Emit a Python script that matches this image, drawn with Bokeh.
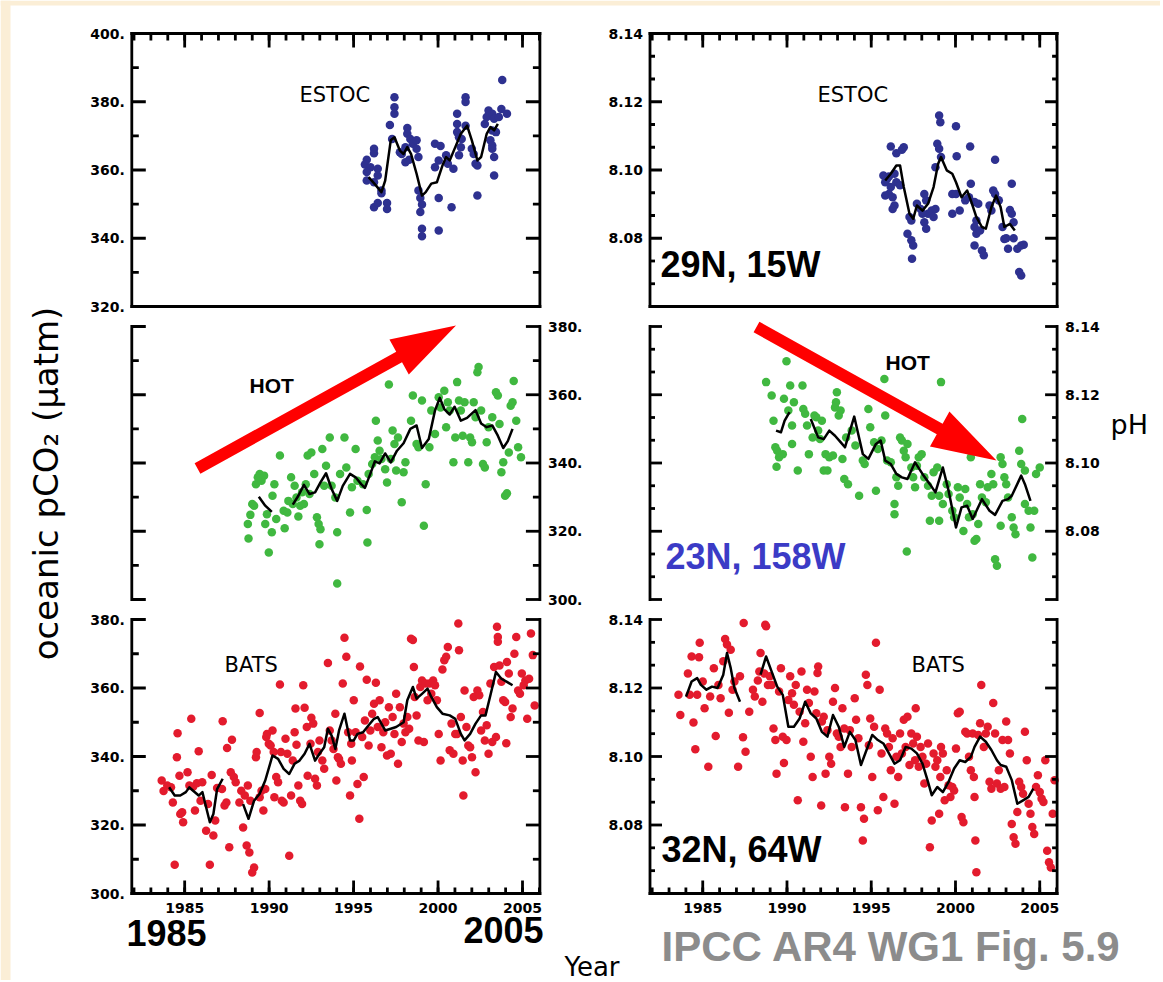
import math
from bokeh.plotting import figure
from bokeh.models import Range1d
from bokeh.embed import file_html
from bokeh.resources import INLINE
from bokeh.core.properties import value

# ------------------------------------------------------------------ data
YEAR_LIMITS = (1981.87, 2006.03)
YEAR_MAJOR = [1985, 1990, 1995, 2000, 2005]
YEAR_LABELS = ["1985", "1990", "1995", "2000", "2005"]
YEAR_MINOR = list(range(1982, 2007))

PCO2_TOP_LIMITS = (320, 400)
PCO2_LIMITS = (300, 380)
PH_LIMITS = (8.06, 8.14)
PCO2_TOP_MAJOR = [320, 340, 360, 380, 400]
PCO2_TOP_LABELS = ["320.", "340.", "360.", "380.", "400."]
PCO2_MAJOR = [300, 320, 340, 360, 380]
PCO2_LABELS = ["300.", "320.", "340.", "360.", "380."]
PH_MAJOR = [8.06, 8.08, 8.10, 8.12, 8.14]
PH_LABELS = ["", "8.08", "8.10", "8.12", "8.14"]

estoc_co2 = [(1995.78, 363.0), (1995.67, 361.6), (1996.21, 366.2), (1996.21, 364.9), (1996.0, 360.8),
             (1996.43, 360.4), (1995.78, 359.4), (1996.43, 358.4), (1995.78, 356.9), (1996.21, 356.4),
             (1996.65, 354.0), (1996.65, 353.2), (1996.21, 349.1), (1996.43, 350.3), (1996.98, 350.3),
             (1996.98, 348.6), (1997.42, 381.3), (1997.42, 378.4), (1997.42, 376.5), (1997.15, 373.2),
             (1997.28, 369.1), (1997.74, 365.2), (1997.85, 364.7), (1998.07, 366.7), (1998.18, 372.3),
             (1998.18, 370.6), (1998.36, 369.1), (1998.51, 367.7), (1998.73, 368.7), (1998.73, 366.2),
             (1998.29, 363.0), (1998.07, 362.3), (1998.84, 363.8), (1998.84, 354.0), (1998.95, 351.8),
             (1999.05, 349.9), (1998.95, 347.7), (1999.05, 342.8), (1999.05, 340.6), (1999.82, 367.7),
             (2000.15, 367.0), (1999.82, 360.8), (2000.04, 362.8), (2000.04, 351.8), (2000.04, 342.3),
             (2000.80, 349.1), (2000.48, 364.3), (2000.58, 361.8), (2000.91, 360.4), (2001.13, 376.5),
             (2001.13, 373.5), (2001.13, 371.1), (2001.24, 369.6), (2001.35, 366.7), (2001.24, 364.3),
             (2001.63, 381.3), (2001.63, 379.9), (2001.63, 373.0), (2001.40, 369.1), (2002.00, 366.2),
             (2002.11, 364.7), (2002.22, 361.8), (2002.33, 361.3), (2002.33, 352.5), (2002.77, 373.5),
             (2002.88, 375.5), (2002.99, 377.4), (2003.10, 376.0), (2003.21, 376.5), (2003.32, 375.0),
             (2003.21, 371.6), (2003.10, 368.7), (2003.21, 367.2), (2003.21, 366.2), (2003.32, 363.8),
             (2003.32, 358.4), (2003.43, 371.1), (2003.75, 377.9), (2004.08, 376.5), (2003.80, 386.4),
             (2003.60, 375.5)]
estoc_co2_smooth = [(1995.89, 357.9), (1996.32, 355.5), (1996.65, 353.5), (1996.87, 356.9), (1997.20, 368.7),
                    (1997.42, 369.6), (1997.74, 365.7), (1997.96, 364.7), (1998.18, 366.7), (1998.40, 364.7),
                    (1998.73, 358.9), (1999.05, 352.5), (1999.27, 353.5), (1999.60, 356.0), (1999.93, 356.4),
                    (2000.26, 361.3), (2000.48, 363.8), (2000.69, 362.8), (2001.02, 366.7), (2001.35, 370.6),
                    (2001.72, 373.0), (2002.00, 368.7), (2002.33, 362.8), (2002.55, 363.8), (2002.88, 370.6),
                    (2003.10, 372.6), (2003.32, 371.6), (2003.54, 373.5)]

estoc_ph = [(1995.72, 8.0984), (1995.83, 8.0964), (1995.94, 8.0974), (1996.05, 8.0981), (1996.16, 8.0950),
            (1996.05, 8.0930), (1995.83, 8.0925), (1996.38, 8.0989), (1996.49, 8.0964), (1996.27, 8.0920),
            (1996.38, 8.0896), (1996.27, 8.0886), (1996.16, 8.1069), (1996.49, 8.1049), (1996.93, 8.1067),
            (1996.82, 8.1059), (1996.71, 8.0955), (1997.15, 8.0813), (1997.38, 8.0794), (1997.49, 8.0779),
            (1997.42, 8.0740), (1997.27, 8.0862), (1997.38, 8.0852), (1997.71, 8.0901), (1997.93, 8.0886),
            (1998.15, 8.0930), (1998.26, 8.0911), (1998.37, 8.0872), (1998.15, 8.0847), (1998.26, 8.0828),
            (1998.59, 8.0881), (1998.70, 8.0862), (1998.81, 8.0886), (1998.04, 8.0872), (1999.03, 8.1160),
            (1999.10, 8.1140), (1998.92, 8.1077), (1999.03, 8.1062), (1999.14, 8.1038), (1998.81, 8.1008),
            (2000.03, 8.1128), (2000.07, 8.1040), (1999.81, 8.0930), (2000.03, 8.0930), (1999.81, 8.0872),
            (2000.25, 8.0881), (2000.87, 8.1069), (2000.91, 8.0960), (2000.58, 8.0911), (2000.80, 8.0920),
            (2001.13, 8.0906), (2001.35, 8.0901), (2001.24, 8.0852), (2001.13, 8.0833), (2001.24, 8.0813),
            (2001.13, 8.0779), (2001.57, 8.0764), (2001.68, 8.0750), (2001.46, 8.0823), (2002.02, 8.0896),
            (2002.13, 8.0881), (2002.35, 8.1030), (2002.24, 8.0940), (2002.35, 8.0930), (2002.57, 8.0911),
            (2002.79, 8.0833), (2002.90, 8.0798), (2003.01, 8.0800), (2003.23, 8.0883), (2003.34, 8.0872),
            (2003.34, 8.0960), (2003.45, 8.0847), (2003.45, 8.0800), (2003.12, 8.0769), (2003.67, 8.0769),
            (2003.90, 8.0779), (2004.05, 8.0781), (2003.78, 8.0701), (2003.90, 8.0691)]
estoc_ph_smooth = [(1995.83, 8.0969), (1996.16, 8.0989), (1996.49, 8.1013), (1996.71, 8.1013), (1996.93, 8.0950),
                   (1997.27, 8.0872), (1997.49, 8.0857), (1997.71, 8.0896), (1998.04, 8.0881), (1998.37, 8.0901),
                   (1998.70, 8.0950), (1998.97, 8.1018), (1999.14, 8.1038), (1999.48, 8.0999), (1999.81, 8.0989),
                   (2000.03, 8.0964), (2000.36, 8.0920), (2000.69, 8.0940), (2000.91, 8.0911), (2001.24, 8.0862),
                   (2001.57, 8.0833), (2001.80, 8.0828), (2002.13, 8.0891), (2002.41, 8.0925), (2002.68, 8.0891),
                   (2002.90, 8.0833), (2003.23, 8.0842), (2003.52, 8.0823)]

hot_co2 = [(1988.78, 317.9), (1988.74, 322.1), (1988.89, 324.8), (1989.00, 328.0), (1989.11, 327.5),
           (1989.22, 333.8), (1989.33, 335.8), (1989.44, 336.8), (1989.55, 334.8), (1989.70, 336.3),
           (1989.77, 322.1), (1989.87, 325.0), (1989.98, 313.8), (1990.16, 319.7), (1990.20, 330.4),
           (1990.31, 333.8), (1990.42, 323.6), (1990.64, 342.2), (1990.86, 326.0), (1990.92, 320.9),
           (1991.08, 325.5), (1991.14, 328.9), (1991.30, 335.8), (1991.40, 328.0), (1991.51, 333.3),
           (1991.62, 329.9), (1991.73, 324.3), (1991.84, 327.5), (1991.95, 331.4), (1992.06, 328.0),
           (1992.17, 333.8), (1992.28, 342.2), (1992.39, 330.9), (1992.50, 343.1), (1992.67, 336.8),
           (1992.83, 324.1), (1992.93, 322.1), (1993.04, 320.6), (1992.98, 316.2), (1993.15, 344.1),
           (1993.26, 333.3), (1993.37, 339.2), (1993.59, 347.5), (1993.70, 333.3), (1993.92, 329.9),
           (1994.03, 319.7), (1994.03, 304.7), (1994.20, 336.8), (1994.46, 347.5), (1994.57, 338.7),
           (1994.79, 325.5), (1994.90, 332.9), (1995.12, 344.1), (1995.23, 334.8), (1995.78, 326.2),
           (1995.82, 316.7), (1995.56, 333.8), (1995.89, 336.8), (1996.10, 339.7), (1996.26, 341.7),
           (1996.32, 352.4), (1996.43, 346.6), (1996.54, 343.6), (1996.65, 341.2), (1996.87, 338.2),
           (1996.98, 334.3), (1997.09, 363.0), (1997.20, 341.2), (1997.31, 349.5), (1997.42, 345.6),
           (1997.52, 337.8), (1997.63, 347.5), (1997.85, 328.5), (1997.96, 337.3), (1998.07, 340.2),
           (1998.40, 352.4), (1998.51, 359.8), (1998.73, 345.6), (1998.84, 344.6), (1999.05, 358.3),
           (1999.16, 321.6), (1999.27, 333.8), (1999.49, 344.6), (1999.60, 355.4), (1999.82, 348.5),
           (2000.04, 359.3), (2000.15, 356.3), (2000.37, 361.2), (2000.48, 350.5), (2000.58, 357.8),
           (2000.69, 355.4), (2000.91, 340.2), (2001.02, 347.5), (2001.13, 363.7), (2001.24, 358.3),
           (2001.35, 355.4), (2001.46, 348.0), (2001.57, 357.8), (2001.79, 340.2), (2001.90, 347.5),
           (2002.01, 346.1), (2002.11, 357.8), (2002.22, 353.4), (2002.33, 366.6), (2002.40, 368.1),
           (2002.55, 355.4), (2002.66, 339.7), (2002.77, 338.7), (2002.88, 346.1), (2002.99, 350.5),
           (2003.21, 353.4), (2003.43, 360.7), (2003.54, 359.8), (2003.64, 351.4), (2003.75, 337.3),
           (2003.86, 340.2), (2003.97, 330.4), (2004.08, 331.1), (2004.19, 343.1), (2004.30, 356.8),
           (2004.41, 357.8), (2004.48, 364.0), (2004.63, 352.4), (2004.74, 344.6), (2004.91, 341.7)]
hot_co2_smooth_a = [(1989.39, 330.1), (1989.77, 327.5), (1990.16, 325.7)]
hot_co2_smooth_b = [(1991.40, 327.8), (1991.73, 330.4), (1992.06, 333.6), (1992.39, 330.9), (1992.72, 331.4),
                    (1993.04, 334.3), (1993.37, 337.0), (1993.70, 332.4), (1994.03, 328.9), (1994.36, 333.3),
                    (1994.79, 336.8), (1995.12, 335.8), (1995.45, 333.8), (1995.67, 332.7), (1995.99, 336.8),
                    (1996.26, 340.5), (1996.54, 339.9), (1996.87, 342.8), (1997.20, 340.2), (1997.57, 343.6),
                    (1997.96, 345.8), (1998.36, 350.0), (1998.73, 351.0), (1999.05, 344.4), (1999.45, 347.0),
                    (1999.82, 355.4), (2000.10, 359.1), (2000.37, 355.8), (2000.69, 354.2), (2000.98, 356.5),
                    (2001.35, 352.4), (2001.72, 353.2), (2002.22, 355.5), (2002.55, 351.6), (2002.88, 350.5),
                    (2003.21, 351.0), (2003.54, 348.0), (2003.86, 344.4), (2004.13, 346.4), (2004.41, 350.0)]

hot_ph = [(1988.76, 8.1237), (1989.09, 8.1198), (1989.20, 8.1124), (1989.31, 8.1046), (1989.42, 8.1036),
          (1989.53, 8.1017), (1989.38, 8.0989), (1989.75, 8.1026), (1989.82, 8.1188), (1989.97, 8.1298),
          (1990.08, 8.1154), (1990.19, 8.1227), (1990.30, 8.1110), (1990.41, 8.1178), (1990.30, 8.1056),
          (1990.64, 8.0978), (1990.92, 8.1227), (1990.97, 8.1158), (1991.08, 8.1144), (1991.19, 8.1110),
          (1991.30, 8.1026), (1991.52, 8.1075), (1991.63, 8.1139), (1991.74, 8.1134), (1991.85, 8.1095),
          (1991.96, 8.1070), (1992.07, 8.1124), (1992.18, 8.0978), (1992.29, 8.1026), (1992.40, 8.0978),
          (1992.51, 8.1017), (1992.73, 8.1022), (1992.85, 8.1163), (1992.96, 8.1207), (1992.91, 8.1178),
          (1993.07, 8.1139), (1993.18, 8.1154), (1993.29, 8.1012), (1993.40, 8.0953), (1993.62, 8.0938),
          (1993.51, 8.1075), (1993.84, 8.1095), (1994.06, 8.1051), (1994.28, 8.0904), (1994.50, 8.1007),
          (1994.61, 8.0997), (1994.83, 8.1158), (1994.94, 8.1105), (1995.17, 8.1061), (1995.28, 8.0919),
          (1995.39, 8.1041), (1995.61, 8.1066), (1995.78, 8.1246), (1995.83, 8.1139), (1995.94, 8.1007),
          (1996.16, 8.1002), (1996.38, 8.0880), (1996.38, 8.0850), (1996.49, 8.0958), (1996.60, 8.0933),
          (1996.71, 8.1075), (1996.82, 8.1066), (1996.93, 8.1036), (1997.04, 8.1017), (1997.11, 8.0741),
          (1997.15, 8.1056), (1997.38, 8.0987), (1997.49, 8.0958), (1997.60, 8.0929), (1997.71, 8.0992),
          (1997.82, 8.1017), (1997.99, 8.1026), (1998.15, 8.0958), (1998.37, 8.0933), (1998.48, 8.0831),
          (1998.59, 8.0904), (1998.70, 8.0973), (1998.92, 8.0987), (1999.03, 8.0831), (1999.03, 8.0904),
          (1999.14, 8.1237), (1999.25, 8.0880), (1999.48, 8.0938), (1999.59, 8.0909), (1999.81, 8.0860),
          (1999.92, 8.0841), (2000.14, 8.0929), (2000.25, 8.0899), (2000.47, 8.0801), (2000.58, 8.0924),
          (2000.69, 8.0880), (2000.80, 8.0841), (2000.91, 8.1017), (2001.02, 8.0850), (2001.13, 8.0772),
          (2001.24, 8.0777), (2001.35, 8.0821), (2001.46, 8.0938), (2001.57, 8.0899), (2001.80, 8.0885),
          (2001.91, 8.0929), (2002.13, 8.0968), (2002.24, 8.0938), (2002.35, 8.0718), (2002.46, 8.0699),
          (2002.68, 8.1017), (2002.79, 8.0997), (2002.68, 8.0816), (2002.90, 8.0958), (2003.01, 8.0938),
          (2003.12, 8.0899), (2003.34, 8.0841), (2003.45, 8.0811), (2003.56, 8.0791), (2003.78, 8.1036),
          (2003.90, 8.0997), (2003.96, 8.1129), (2004.12, 8.0978), (2004.12, 8.0880), (2004.34, 8.0860),
          (2004.45, 8.0811), (2004.56, 8.0723), (2004.67, 8.0860), (2004.78, 8.0968), (2005.00, 8.0987)]
hot_ph_smooth_a = [(1989.35, 8.1095), (1989.64, 8.1090), (1989.86, 8.1124), (1990.15, 8.1149)]
hot_ph_smooth_b = [(1991.41, 8.1129), (1991.85, 8.1075), (1992.18, 8.1070), (1992.51, 8.1095), (1992.85, 8.1080),
                   (1993.18, 8.1061), (1993.44, 8.1046), (1993.99, 8.1136), (1994.50, 8.1026), (1994.83, 8.1012),
                   (1995.28, 8.1056), (1995.56, 8.1066), (1995.83, 8.1007), (1996.16, 8.0997), (1996.49, 8.0968),
                   (1996.82, 8.0958), (1997.15, 8.0953), (1997.60, 8.1002), (1998.04, 8.0968), (1998.48, 8.0938),
                   (1998.81, 8.0914), (1999.25, 8.0987), (1999.59, 8.0919), (2000.03, 8.0811), (2000.36, 8.0870),
                   (2000.69, 8.0875), (2001.02, 8.0836), (2001.57, 8.0894), (2002.02, 8.0860), (2002.35, 8.0848),
                   (2002.79, 8.0889), (2003.12, 8.0894), (2003.34, 8.0904), (2003.90, 8.0963), (2004.12, 8.0938),
                   (2004.45, 8.0889)]

bats_co2 = [(1983.64, 333.0), (1983.75, 329.9), (1983.97, 331.5), (1984.19, 331.0), (1984.30, 326.6),
            (1984.41, 308.4), (1984.58, 346.8), (1984.54, 339.8), (1984.69, 334.4), (1984.74, 323.2),
            (1984.85, 323.7), (1984.91, 320.8), (1985.17, 335.4), (1985.28, 331.5), (1985.39, 351.0),
            (1985.50, 331.2), (1985.61, 324.2), (1985.72, 332.2), (1985.83, 341.5), (1985.94, 327.1),
            (1986.04, 332.5), (1986.27, 318.3), (1986.38, 326.1), (1986.49, 308.4), (1986.60, 334.6),
            (1986.70, 316.9), (1986.81, 321.3), (1986.92, 330.8), (1987.21, 330.5), (1987.25, 350.3),
            (1987.36, 325.7), (1987.47, 326.6), (1987.51, 342.5), (1987.64, 313.5), (1987.73, 335.4),
            (1987.80, 344.9), (1987.91, 334.0), (1988.02, 332.5), (1988.24, 326.6), (1988.35, 330.0),
            (1988.46, 319.3), (1988.56, 328.6), (1988.67, 314.0), (1988.74, 331.5), (1988.83, 312.0),
            (1988.89, 327.1), (1989.00, 306.1), (1989.11, 307.6), (1989.22, 339.8), (1989.26, 341.3),
            (1989.44, 352.7), (1989.44, 328.1), (1989.55, 330.0), (1989.66, 324.2), (1989.77, 330.5),
            (1989.83, 345.7), (1989.87, 346.6), (1989.98, 343.7), (1990.09, 343.2), (1990.20, 347.6),
            (1990.27, 341.3), (1990.31, 328.1), (1990.42, 334.0), (1990.53, 332.5), (1990.64, 361.0),
            (1990.70, 341.3), (1990.75, 327.1), (1990.86, 326.6), (1990.97, 345.2), (1991.08, 340.8),
            (1991.19, 311.0), (1991.30, 328.6), (1991.40, 338.8), (1991.51, 347.1), (1991.56, 354.0),
            (1991.62, 343.4), (1991.73, 331.5), (1991.84, 327.1), (1991.95, 326.1), (1992.02, 360.8),
            (1992.10, 354.2), (1992.23, 348.6), (1992.28, 334.4), (1992.45, 343.7), (1992.50, 351.3),
            (1992.61, 349.6), (1992.72, 333.5), (1992.83, 331.5), (1992.89, 341.3), (1992.98, 344.7),
            (1993.15, 338.8), (1993.26, 336.4), (1993.48, 367.3), (1993.59, 347.6), (1993.70, 344.7),
            (1993.81, 342.2), (1993.92, 352.5), (1993.98, 333.0), (1994.07, 339.8), (1994.14, 339.3),
            (1994.25, 337.9), (1994.36, 361.3), (1994.46, 374.7), (1994.57, 369.1), (1994.68, 347.1),
            (1994.79, 328.6), (1994.86, 343.7), (1994.90, 338.8), (1995.01, 356.4), (1995.12, 347.1),
            (1995.23, 332.0), (1995.34, 321.8), (1995.38, 366.3), (1995.51, 345.7), (1995.60, 334.0),
            (1995.67, 350.5), (1995.78, 362.4), (1995.89, 343.2), (1995.99, 347.6), (1996.10, 352.5),
            (1996.21, 355.4), (1996.32, 361.5), (1996.43, 348.6), (1996.54, 356.4), (1996.65, 342.7),
            (1996.76, 347.1), (1996.87, 350.0), (1996.98, 340.3), (1997.09, 354.4), (1997.20, 340.8),
            (1997.31, 351.5), (1997.42, 346.6), (1997.52, 358.3), (1997.63, 337.9), (1997.74, 354.4),
            (1997.85, 344.2), (1997.96, 349.6), (1998.07, 347.1), (1998.18, 351.5), (1998.29, 348.1),
            (1998.40, 374.4), (1998.51, 374.0), (1998.57, 366.1), (1998.62, 357.4), (1998.73, 352.0),
            (1998.84, 344.7), (1998.95, 360.3), (1999.05, 362.2), (1999.16, 344.2), (1999.27, 361.3),
            (1999.38, 356.4), (1999.49, 361.3), (1999.60, 358.3), (1999.71, 362.2), (1999.82, 360.8),
            (1999.93, 356.4), (2000.04, 346.6), (2000.15, 338.8), (2000.26, 365.4), (2000.37, 368.1),
            (2000.48, 369.1), (2000.58, 372.0), (2000.69, 341.8), (2000.80, 349.6), (2000.91, 340.8),
            (2001.02, 346.6), (2001.13, 346.6), (2001.20, 378.8), (2001.24, 371.0), (2001.35, 351.5),
            (2001.46, 338.8), (2001.50, 328.6), (2001.57, 359.3), (2001.68, 348.6), (2001.79, 343.2),
            (2001.90, 342.7), (2002.01, 339.8), (2002.11, 357.4), (2002.22, 335.4), (2002.33, 359.3),
            (2002.44, 357.9), (2002.55, 347.6), (2002.66, 353.0), (2002.77, 344.7), (2002.88, 349.1),
            (2002.99, 340.8), (2003.10, 361.3), (2003.21, 344.2), (2003.32, 366.1), (2003.43, 345.7),
            (2003.49, 377.9), (2003.54, 374.9), (2003.54, 373.5), (2003.64, 366.6), (2003.75, 361.8),
            (2003.86, 356.4), (2003.97, 355.9), (2004.04, 343.9), (2004.08, 367.6), (2004.19, 364.2),
            (2004.30, 351.5), (2004.41, 354.0), (2004.52, 370.0), (2004.63, 374.9), (2004.74, 359.3),
            (2004.85, 358.3), (2004.96, 364.2), (2005.07, 360.8), (2005.17, 362.2), (2005.28, 351.0),
            (2005.39, 362.7), (2005.50, 375.9), (2005.61, 369.6), (2005.72, 354.9)]
bats_co2_smooth_a = [(1984.08, 331.0), (1984.41, 328.6), (1984.74, 328.6), (1985.07, 329.6), (1985.28, 331.0),
                     (1985.50, 330.0), (1985.83, 328.6), (1986.05, 329.6), (1986.27, 325.2), (1986.49, 320.8),
                     (1986.70, 323.2), (1986.92, 330.5), (1987.25, 333.5)]
bats_co2_smooth_b = [(1988.46, 326.1), (1988.78, 321.8), (1989.11, 327.1), (1989.44, 329.1), (1989.77, 333.0),
                     (1990.20, 340.3), (1990.53, 339.3), (1990.86, 336.4), (1991.19, 334.9), (1991.51, 337.9),
                     (1991.80, 338.8), (1992.10, 340.8), (1992.39, 343.7), (1992.72, 338.8), (1992.98, 340.8),
                     (1993.26, 342.7), (1993.48, 348.1), (1993.70, 346.1), (1993.92, 342.2), (1994.14, 347.6),
                     (1994.46, 352.5), (1994.79, 344.7), (1995.01, 344.7), (1995.23, 346.6), (1995.56, 347.1),
                     (1995.89, 349.1), (1996.21, 351.0), (1996.43, 351.5), (1996.87, 347.6), (1997.20, 348.1),
                     (1997.52, 348.6), (1997.96, 350.0), (1998.18, 356.4), (1998.51, 360.3), (1998.73, 356.9),
                     (1999.05, 358.3), (1999.38, 359.8), (1999.60, 357.4), (1999.93, 354.4), (2000.26, 352.5),
                     (2000.69, 352.0), (2001.02, 351.0), (2001.35, 346.6), (2001.57, 344.7), (2001.90, 346.6),
                     (2002.22, 349.6), (2002.55, 352.0), (2002.81, 352.0), (2003.10, 357.9), (2003.43, 364.7),
                     (2003.75, 362.7), (2004.08, 361.8), (2004.41, 360.8)]

bats_ph = [(1983.56, 8.1180), (1983.67, 8.1121), (1984.12, 8.1242), (1984.23, 8.1180), (1984.34, 8.1292),
           (1984.45, 8.1099), (1984.56, 8.1021), (1984.67, 8.1180), (1984.78, 8.1290), (1984.82, 8.1332),
           (1985.00, 8.1219), (1985.11, 8.1141), (1985.33, 8.0970), (1985.44, 8.1175), (1985.66, 8.1258),
           (1985.77, 8.1060), (1985.93, 8.1209), (1986.06, 8.1170), (1986.22, 8.1278), (1986.33, 8.1343),
           (1986.44, 8.1327), (1986.55, 8.1128), (1986.66, 8.1312), (1986.77, 8.1195), (1986.88, 8.1219),
           (1987.10, 8.0970), (1987.21, 8.1234), (1987.39, 8.1056), (1987.43, 8.1390), (1987.54, 8.1014),
           (1987.76, 8.1131), (1987.98, 8.1195), (1988.09, 8.1175), (1988.27, 8.1222), (1988.36, 8.1248),
           (1988.43, 8.1302), (1988.54, 8.1160), (1988.65, 8.1242), (1988.71, 8.1385), (1988.76, 8.1380),
           (1988.87, 8.1209), (1988.98, 8.1234), (1989.09, 8.1209), (1989.20, 8.1082), (1989.31, 8.1048),
           (1989.38, 8.0950), (1989.53, 8.1190), (1989.64, 8.1258), (1989.75, 8.1058), (1989.82, 8.0981),
           (1989.97, 8.1048), (1990.08, 8.1165), (1990.19, 8.1234), (1990.30, 8.1185), (1990.41, 8.1151),
           (1990.52, 8.1209), (1990.64, 8.0872), (1990.75, 8.1131), (1990.86, 8.1248), (1990.97, 8.1043),
           (1991.08, 8.1097), (1991.19, 8.1195), (1991.30, 8.1156), (1991.41, 8.0999), (1991.52, 8.0940),
           (1991.63, 8.1190), (1991.74, 8.1126), (1991.81, 8.1244), (1991.85, 8.1263), (1992.03, 8.0857),
           (1992.07, 8.1102), (1992.18, 8.1116), (1992.29, 8.0950), (1992.40, 8.1077), (1992.51, 8.0999),
           (1992.62, 8.0979), (1992.73, 8.1160), (1992.85, 8.1200), (1992.96, 8.1067), (1993.07, 8.1058),
           (1993.18, 8.1028), (1993.29, 8.1141), (1993.40, 8.1082), (1993.44, 8.0852), (1993.62, 8.0950),
           (1993.73, 8.1077), (1993.84, 8.1028), (1994.02, 8.1170), (1994.10, 8.1107), (1994.24, 8.1053),
           (1994.39, 8.0852), (1994.50, 8.0755), (1994.57, 8.0818), (1994.68, 8.1239), (1994.77, 8.1209),
           (1994.86, 8.1033), (1994.94, 8.1111), (1995.06, 8.0940), (1995.17, 8.1087), (1995.28, 8.1332),
           (1995.39, 8.0843), (1995.50, 8.1195), (1995.61, 8.1009), (1995.72, 8.0882), (1995.83, 8.1082),
           (1995.94, 8.1067), (1996.05, 8.1028), (1996.16, 8.0960), (1996.27, 8.1053), (1996.38, 8.0862),
           (1996.49, 8.0999), (1996.60, 8.0940), (1996.71, 8.1067), (1996.82, 8.1009), (1996.93, 8.1107),
           (1997.04, 8.1028), (1997.15, 8.1116), (1997.27, 8.0975), (1997.38, 8.1067), (1997.49, 8.1038),
           (1997.60, 8.0989), (1997.64, 8.1141), (1997.71, 8.1058), (1997.82, 8.0970), (1997.93, 8.1028),
           (1998.04, 8.0999), (1998.15, 8.0921), (1998.26, 8.0979), (1998.37, 8.1038), (1998.48, 8.0735),
           (1998.59, 8.0813), (1998.70, 8.1009), (1998.81, 8.0970), (1998.92, 8.0989), (1999.03, 8.0833),
           (1999.10, 8.0940), (1999.14, 8.1028), (1999.25, 8.1009), (1999.36, 8.0872), (1999.48, 8.0960),
           (1999.59, 8.0916), (1999.70, 8.0882), (1999.81, 8.0911), (1999.92, 8.0901), (2000.03, 8.1023),
           (2000.14, 8.1126), (2000.25, 8.1131), (2000.36, 8.0823), (2000.47, 8.0808), (2000.58, 8.1072),
           (2000.69, 8.1067), (2000.80, 8.0999), (2000.91, 8.0960), (2001.02, 8.1067), (2001.09, 8.0940),
           (2001.13, 8.0882), (2001.18, 8.0755), (2001.24, 8.0662), (2001.35, 8.1063), (2001.46, 8.1097),
           (2001.53, 8.1209), (2001.68, 8.1028), (2001.80, 8.1067), (2001.91, 8.1087), (2002.02, 8.0926),
           (2002.13, 8.0906), (2002.24, 8.1156), (2002.35, 8.1067), (2002.46, 8.0921), (2002.57, 8.0960),
           (2002.68, 8.0906), (2002.79, 8.1048), (2002.90, 8.0911), (2003.01, 8.1102), (2003.12, 8.1048),
           (2003.23, 8.1009), (2003.34, 8.0803), (2003.45, 8.0764), (2003.56, 8.0745), (2003.67, 8.0838),
           (2003.78, 8.0926), (2003.90, 8.0911), (2004.01, 8.0891), (2004.12, 8.1072), (2004.23, 8.0989),
           (2004.34, 8.0862), (2004.45, 8.0833), (2004.56, 8.0794), (2004.67, 8.0774), (2004.78, 8.0911),
           (2004.89, 8.0945), (2005.00, 8.0896), (2005.11, 8.0877), (2005.22, 8.0867), (2005.33, 8.0989),
           (2005.44, 8.0725), (2005.55, 8.0691), (2005.66, 8.0676), (2005.77, 8.0833), (2005.88, 8.0931)]
bats_ph_smooth_a = [(1984.01, 8.1175), (1984.34, 8.1219), (1984.67, 8.1229), (1984.89, 8.1209), (1985.22, 8.1195),
                    (1985.55, 8.1204), (1985.88, 8.1200), (1986.22, 8.1239), (1986.44, 8.1302), (1986.66, 8.1258),
                    (1986.88, 8.1200), (1987.21, 8.1160)]
bats_ph_smooth_b = [(1988.43, 8.1239), (1988.76, 8.1292), (1989.09, 8.1248), (1989.42, 8.1204), (1989.75, 8.1180),
                    (1990.08, 8.1087), (1990.41, 8.1087), (1990.75, 8.1111), (1991.08, 8.1160), (1991.41, 8.1126),
                    (1991.74, 8.1111), (1992.07, 8.1072), (1992.40, 8.1058), (1992.73, 8.1121), (1993.07, 8.1087),
                    (1993.40, 8.1028), (1993.73, 8.1072), (1994.06, 8.1048), (1994.39, 8.0975), (1994.72, 8.1019),
                    (1995.06, 8.1063), (1995.39, 8.1048), (1995.72, 8.1038), (1996.05, 8.1009), (1996.38, 8.0979),
                    (1996.71, 8.0989), (1997.04, 8.1028), (1997.38, 8.1023), (1997.71, 8.1009), (1998.04, 8.0979),
                    (1998.37, 8.0926), (1998.59, 8.0887), (1998.92, 8.0911), (1999.25, 8.0896), (1999.59, 8.0926),
                    (1999.92, 8.0965), (2000.25, 8.0989), (2000.58, 8.0984), (2000.91, 8.0999), (2001.13, 8.1028),
                    (2001.46, 8.1058), (2001.80, 8.1043), (2002.13, 8.1019), (2002.46, 8.0989), (2002.68, 8.0975),
                    (2003.01, 8.0970), (2003.34, 8.0931), (2003.67, 8.0862), (2004.01, 8.0872), (2004.34, 8.0882),
                    (2004.62, 8.0906)]

# ------------------------------------------------------------------ layout / style
W, H = 1160, 980
COL_L = (131.3, 539.4)
COL_R = (649.5, 1056.6)
ROW = [(33.0, 306.0), (326.0, 599.0), (619.0, 893.0)]
C_ESTOC = "#2E3190"
C_HOT = "#40B840"
C_BATS = "#E31B2D"
C_ARROW = "#FF0000"
C_BEIGE = "#FBEED6"
TICK_FONT = value("DejaVu Sans")
LBL_FONT = value("DejaVu Sans")
BIG_FONT = value("Liberation Sans")

p = figure(width=W, height=H, x_range=Range1d(0, W), y_range=Range1d(H, 0),
           output_backend="svg", toolbar_location=None, min_border=0, title=None,
           x_axis_location=None, y_axis_location=None)
p.grid.visible = False
p.outline_line_color = None
p.background_fill_color = "white"
p.border_fill_color = "white"

# slide edge (beige strip on the left and top)
p.quad(left=[0, 0], right=[10, W], top=[0, 0], bottom=[H, 5], fill_color=C_BEIGE, line_color=None)

xr, yr = {}, {}
panels = {}


def setup(name, col, row, ylim):
    xl, xrt = col
    yt, yb = row
    x0, x1 = YEAR_LIMITS
    kx = (x1 - x0) / (xrt - xl)
    xr[name] = Range1d(start=x0 - xl * kx, end=x0 + (W - xl) * kx)
    vbot, vtop = ylim
    ky = (vtop - vbot) / (yb - yt)
    yr[name] = Range1d(start=vtop - (H - yt) * ky, end=vtop + yt * ky)
    panels[name] = (xl, xrt, yt, yb)


setup("tl", COL_L, ROW[0], PCO2_TOP_LIMITS)
setup("ml", COL_L, ROW[1], PCO2_LIMITS)
setup("bl", COL_L, ROW[2], PCO2_LIMITS)
setup("tr", COL_R, ROW[0], PH_LIMITS)
setup("mr", COL_R, ROW[1], PH_LIMITS)
setup("br", COL_R, ROW[2], PH_LIMITS)
p.extra_x_ranges = xr
p.extra_y_ranges = yr


def xs(pairs):
    return [a for a, b in pairs]


def ys(pairs):
    return [b for a, b in pairs]


def series(name, pts, lines, color):
    p.scatter(xs(pts), ys(pts), x_range_name=name, y_range_name=name, size=8.5,
              marker="circle", fill_color=color, line_color=None)
    p.multi_line([xs(s) for s in lines], [ys(s) for s in lines], x_range_name=name,
                 y_range_name=name, line_color="black", line_width=2.5, line_join="round")


series("tl", estoc_co2, [estoc_co2_smooth], C_ESTOC)
series("tr", estoc_ph, [estoc_ph_smooth], C_ESTOC)
series("ml", hot_co2, [hot_co2_smooth_a, hot_co2_smooth_b], C_HOT)
series("mr", hot_ph, [hot_ph_smooth_a, hot_ph_smooth_b], C_HOT)
series("bl", bats_co2, [bats_co2_smooth_a, bats_co2_smooth_b], C_BATS)
series("br", bats_ph, [bats_ph_smooth_a, bats_ph_smooth_b], C_BATS)

LW = 2.8


def frame(name, sides):
    xl, xrt, yt, yb = panels[name]
    segs = {"left": (xl, yt, xl, yb), "right": (xrt, yt, xrt, yb),
            "top": (xl, yt, xrt, yt), "bottom": (xl, yb, xrt, yb)}
    sel = [segs[s] for s in sides]
    p.segment([s[0] for s in sel], [s[1] for s in sel], [s[2] for s in sel], [s[3] for s in sel],
              line_color="black", line_width=LW, line_cap="square")


def yticks(name, majors, minors, maj_len, min_len, labels, label_side):
    xl, xrt, yt, yb = panels[name]
    for ticks, ln in ((majors, maj_len), (minors, min_len)):
        n = len(ticks)
        p.segment([xl] * n, ticks, [xl + ln] * n, ticks, y_range_name=name,
                  line_color="black", line_width=LW)
        p.segment([xrt] * n, ticks, [xrt - ln] * n, ticks, y_range_name=name,
                  line_color="black", line_width=LW)
    if label_side == "left":
        p.text([xl - 7] * len(majors), majors, text=labels, y_range_name=name,
               text_align="right", text_baseline="middle", text_font=TICK_FONT,
               text_font_style="bold", text_font_size="14px", text_color="black")
    else:
        p.text([xrt + 8] * len(majors), majors, text=labels, y_range_name=name,
               text_align="left", text_baseline="middle", text_font=TICK_FONT,
               text_font_style="bold", text_font_size="14px", text_color="black")


def xticks(name, where, maj_len, min_len, labels):
    xl, xrt, yt, yb = panels[name]
    base = yt if where == "top" else yb
    sgn = 1 if where == "top" else -1
    for ticks, ln in ((YEAR_MAJOR, maj_len), (YEAR_MINOR, min_len)):
        n = len(ticks)
        p.segment(ticks, [base] * n, ticks, [base + sgn * ln] * n, x_range_name=name,
                  line_color="black", line_width=LW)
    if labels:
        p.text(YEAR_MAJOR, [yb + 14] * len(YEAR_MAJOR), text=YEAR_LABELS, x_range_name=name,
               text_align="center", text_baseline="middle", text_font=TICK_FONT,
               text_font_style="bold", text_font_size="14px", text_color="black")


pco2_minor_top = [330, 350, 370, 390]
pco2_minor = [310, 330, 350, 370]
ph_minor = [PH_MAJOR[i] + k * 0.02 / 3 for i in range(4) for k in (1, 2)]

frame("tl", ["left", "right", "top", "bottom"])
yticks("tl", PCO2_TOP_MAJOR, pco2_minor_top, 14, 7, PCO2_TOP_LABELS, "left")
xticks("tl", "top", 14, 7, False)
frame("ml", ["left", "right"])
yticks("ml", PCO2_MAJOR, pco2_minor, 14, 7, PCO2_LABELS, "right")
frame("bl", ["left", "right", "bottom"])
yticks("bl", PCO2_MAJOR, pco2_minor, 14, 7, PCO2_LABELS, "left")
xticks("bl", "bottom", 13, 6, True)

frame("tr", ["left", "right", "top", "bottom"])
yticks("tr", PH_MAJOR, ph_minor, 12, 5, PH_LABELS, "left")
xticks("tr", "top", 14, 7, False)
frame("mr", ["left", "right"])
yticks("mr", PH_MAJOR, ph_minor, 12, 5, PH_LABELS, "right")
frame("br", ["left", "right", "bottom"])
yticks("br", PH_MAJOR, ph_minor, 12, 5, PH_LABELS, "left")
xticks("br", "bottom", 13, 6, True)


# ------------------------------------------------------------------ arrows
def arrow(tail, tip, shaft=12.0, head_len=65.0, head_w=40.0):
    tx, ty = tail
    px, py = tip
    d = math.hypot(px - tx, py - ty)
    ux, uy = (px - tx) / d, (py - ty) / d
    nx, ny = -uy, ux
    bx, by = px - head_len * ux, py - head_len * uy
    w, h = shaft / 2, head_w / 2
    X = [tx + w * nx, bx + w * nx, bx + h * nx, px, bx - h * nx, bx - w * nx, tx - w * nx]
    Y = [ty + w * ny, by + w * ny, by + h * ny, py, by - h * ny, by - w * ny, ty - w * ny]
    p.patch(X, Y, fill_color=C_ARROW, line_color=None)


arrow((197.0, 468.0), (455.5, 325.0))
arrow((756.0, 326.5), (996.0, 460.0))


# ------------------------------------------------------------------ texts (y = visual middle)
def txt(x, y, s, font, size, style="normal", color="black", align="left", angle=0.0):
    p.text([x], [y], text=[s], text_font=font, text_font_size=size, text_font_style=style,
           text_color=color, text_align=align, text_baseline="middle", angle=angle)


txt(299, 94, "ESTOC", LBL_FONT, "21px")
txt(817, 94, "ESTOC", LBL_FONT, "21px")
txt(249, 385, "HOT", BIG_FONT, "21px", style="bold")
txt(885, 362, "HOT", BIG_FONT, "21px", style="bold")
txt(224, 664, "BATS", LBL_FONT, "21px")
txt(911, 664, "BATS", LBL_FONT, "21px")
txt(1110, 424, "pH", LBL_FONT, "27px")
txt(45, 483, "oceanic pCO\u2082 (\u03bcatm)", LBL_FONT, "34px", align="center", angle=math.pi / 2)
txt(564, 966, "Year", LBL_FONT, "26px")

txt(660, 264, "29N, 15W", BIG_FONT, "36px", style="bold")
txt(665, 556, "23N, 158W", BIG_FONT, "36px", style="bold", color="#3B3BC6")
txt(661, 849, "32N, 64W", BIG_FONT, "36px", style="bold")
txt(126, 932, "1985", BIG_FONT, "36px", style="bold")
txt(463, 929, "2005", BIG_FONT, "36px", style="bold")
txt(661, 946, "IPCC AR4 WG1 Fig. 5.9", BIG_FONT, "42px", style="bold", color="#8C8C8C")

open("out.html", "w").write(file_html(p, INLINE))
